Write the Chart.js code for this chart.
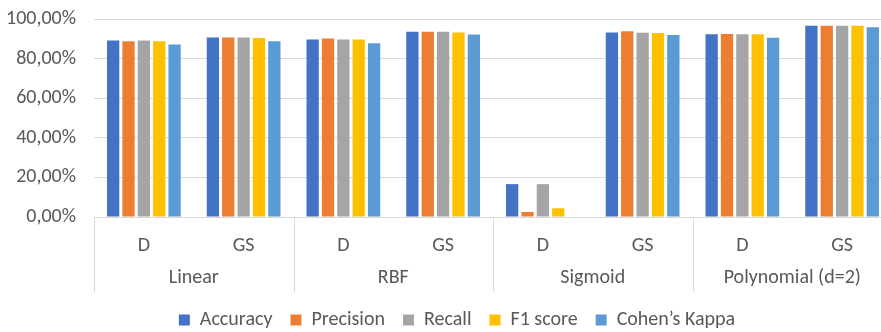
<!DOCTYPE html>
<html>
<head>
<meta charset="utf-8">
<script src="https://cdn.jsdelivr.net/npm/chart.js@4/dist/chart.umd.min.js"></script>
<style>
  html, body { margin: 0; padding: 0; background: #fff; overflow: hidden; }
  #wrap { width: 914px; height: 332px; }
</style>
</head>
<body>
<div id="wrap"><canvas id="svm-metrics"></canvas></div>
<script>
const categories = ['D', 'GS', 'D', 'GS', 'D', 'GS', 'D', 'GS'];
const kernels = ['Linear', 'RBF', 'Sigmoid', 'Polynomial (d=2)'];
const yTicks = [0, 20, 40, 60, 80, 100];

const accuracy = [89.2, 90.7, 89.7, 93.6, 16.6, 93.2, 92.3, 96.6];
const precision = [88.8, 90.7, 90.2, 93.6, 2.5, 93.8, 92.4, 96.6];
const recall = [89.2, 90.7, 89.7, 93.6, 16.6, 93.1, 92.3, 96.6];
const f1Score = [88.8, 90.4, 89.7, 93.2, 4.4, 92.9, 92.3, 96.6];
const cohensKappa = [87.1, 88.8, 87.7, 92.2, 0, 91.9, 90.5, 95.8];

const SERIES_COLORS = ['#4472C4', '#ED7D31', '#A5A5A5', '#FFC000', '#5B9BD5'];
const FONT = "Carlito, Lato, 'Liberation Sans', sans-serif";
const TEXT = '#595959';
const GRID = '#d9d9d9';

const series = [
  { label: 'Accuracy', data: accuracy },
  { label: 'Precision', data: precision },
  { label: 'Recall', data: recall },
  { label: 'F1 score', data: f1Score },
  { label: 'Cohen\u2019s Kappa', data: cohensKappa },
];

// vertical separators between kernel groups, below the plot
const groupSeparators = {
  id: 'groupSeparators',
  afterDraw(chart) {
    const x = chart.scales.x;
    const x2 = chart.scales.x2;
    const ctx = chart.ctx;
    const half = (x.getPixelForValue(1) - x.getPixelForValue(0)) / 2;
    ctx.save();
    ctx.strokeStyle = GRID;
    ctx.lineWidth = 1;
    for (let i = 0; i <= categories.length; i += 2) {
      const px = Math.round(x.getPixelForValue(i) - half) + 0.5;
      ctx.beginPath();
      ctx.moveTo(px, chart.chartArea.bottom);
      ctx.lineTo(px, x2.bottom);
      ctx.stroke();
    }
    ctx.restore();
  },
};

// fixed legend height, and nudge it right like the original
const legendTweak = {
  id: 'legendTweak',
  beforeInit(chart) {
    const legend = chart.legend;
    if (legend) {
      const fit = legend.fit;
      legend.fit = function () { fit.call(this); this.height = 40; };
      const draw = legend.draw;
      legend.draw = function () {
        this.ctx.save();
        this.ctx.translate(11, 0);
        draw.call(this);
        this.ctx.restore();
      };
    }
  },
};

new Chart(document.getElementById('svm-metrics'), {
  type: 'bar',
  data: {
    labels: categories,
    datasets: series.map((s, i) => ({
      label: s.label,
      data: s.data,
      backgroundColor: SERIES_COLORS[i],
      categoryPercentage: 0.77,
      barPercentage: 0.8,
    })),
  },
  options: {
    responsive: true,
    maintainAspectRatio: false,
    animation: false,
    layout: { padding: { top: 0, right: 22, left: 0, bottom: 0 } },
    plugins: {
      legend: {
        position: 'bottom',
        labels: {
          font: { family: FONT, size: 20 },
          color: TEXT,
          boxWidth: 11,
          boxHeight: 11,
          padding: 18,
        },
      },
      tooltip: { enabled: false },
    },
    scales: {
      y: {
        min: 0,
        max: 100,
        afterBuildTicks: (axis) => { axis.ticks = yTicks.map((v) => ({ value: v })); },
        afterFit: (axis) => { axis.width = 94; },
        border: { display: false },
        grid: { color: GRID, lineWidth: 1, drawTicks: true, tickLength: 11, tickColor: 'rgba(0,0,0,0)' },
        ticks: {
          padding: 7,
          color: TEXT,
          font: { family: FONT, size: 20 },
          callback: (v) => v.toFixed(2).replace('.', ',') + '%',
        },
      },
      x: {
        grid: { display: false },
        border: { display: false },
        afterFit: (axis) => { axis.height = 40; },
        ticks: {
          padding: 9,
          color: TEXT,
          font: { family: FONT, size: 20 },
          maxRotation: 0,
        },
      },
      x2: {
        type: 'category',
        position: 'bottom',
        labels: kernels,
        offset: true,
        grid: { display: false },
        border: { display: false },
        afterFit: (axis) => { axis.height = 35; },
        ticks: {
          padding: 1,
          color: TEXT,
          font: { family: FONT, size: 20 },
          maxRotation: 0,
        },
      },
    },
  },
  plugins: [groupSeparators, legendTweak],
});
</script>
</body>
</html>
